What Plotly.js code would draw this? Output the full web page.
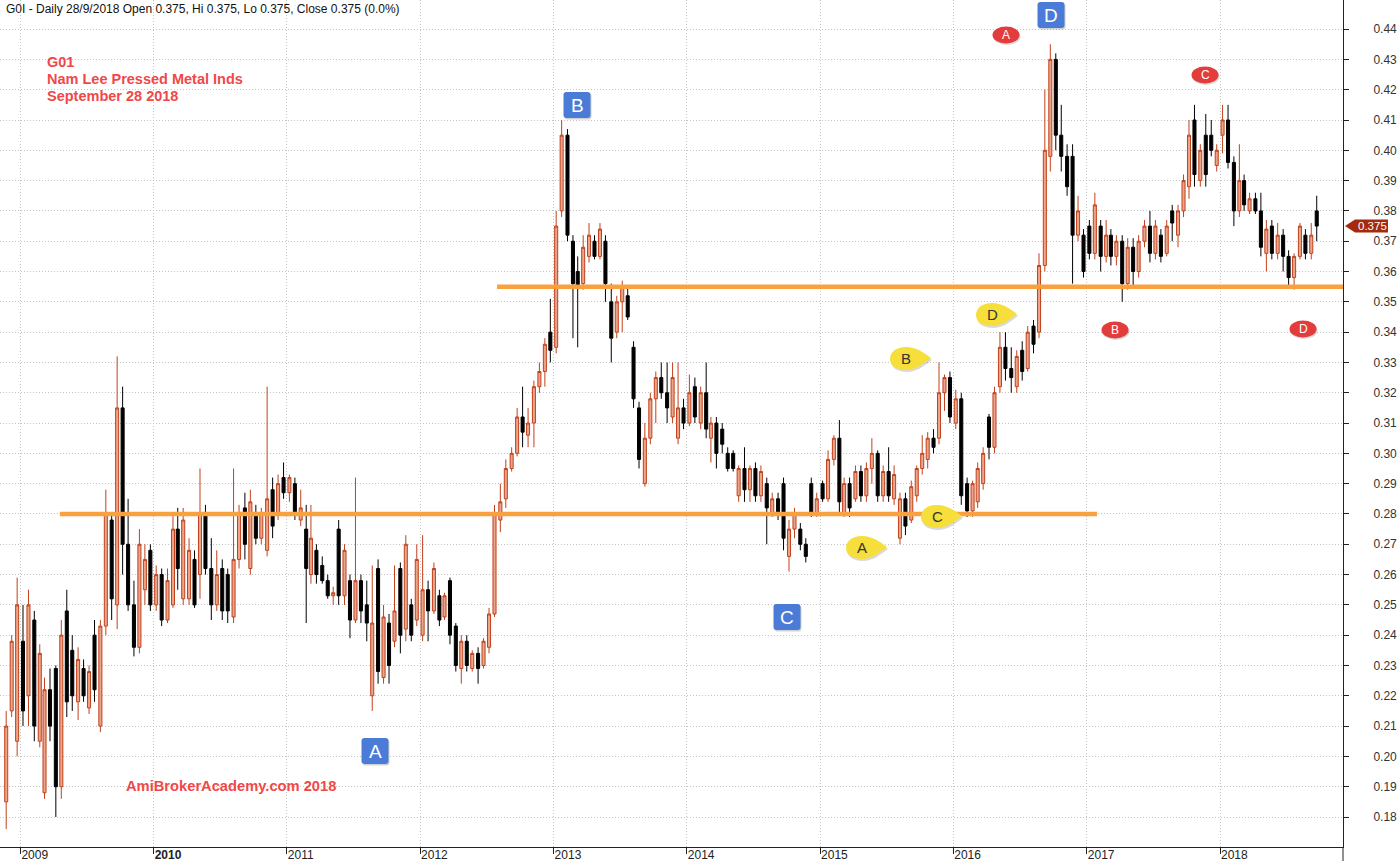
<!DOCTYPE html>
<html><head><meta charset="utf-8">
<script src="https://cdn.plot.ly/plotly-3.0.1.min.js"></script>
<style>html,body{margin:0;padding:0;background:#fff;overflow:hidden}#chart{width:1400px;height:861px}</style>
</head><body><div id="chart"></div>
<script>
// ---- Data: half-month OHLC bars, G01 Nam Lee Pressed Metal Inds ----
// periods run from the 2nd half of Nov 2008 to the 2nd half of Sep 2018
const openP = [
  .185,.215,.205,
  .238,.22,.245,.205,.188,.222,.229,.19,.248,.235,.218,.229,.216,.24,.21,.243,.278,.25,.315,.27,.25,.236,.255,.268,
  .25,.26,.245,.25,.275,.252,.252,.265,.26,.28,.262,.25,.262,.26,.246,.265,.282,.262,.28,.272,.268,.288,.28,.292,
  .287,.29,.278,.275,.26,.268,.263,.258,.253,.275,.253,.258,.245,.258,.25,.22,.262,.226,.244,.238,.262,.242,.25,.245,
  .24,.255,.248,.253,.246,.258,.243,.229,.238,.229,.234,.23,.236,.247,.278,.285,.295,.30,.312,.306,.31,.322,.327,.34,
  .335,.38,.405,.37,.36,.356,.365,.37,.365,.37,.35,.34,.35,.352,.335,.315,.29,.305,.318,.325,.32,.312,.305,.315,
  .31,.322,.31,.32,.305,.31,.308,.30,.30,.286,.295,.288,.295,.286,.29,.28,.285,.29,.266,.275,.275,.27,.29,.28,
  .29,.285,.298,.305,.28,.29,.285,.294,.286,.295,.30,.286,.294,.285,.272,.285,.278,.286,.295,.298,.305,.305,.32,.325,
  .31,.318,.29,.281,.284,.29,.312,.302,.322,.335,.328,.322,.334,.328,.342,.34,.362,.398,.43,.405,.398,.398,.372,.372,
  .375,.366,.375,.365,.372,.365,.37,.356,.368,.36,.37,.375,.366,.372,.366,.38,.372,.38,.388,.41,.39,.405,.405,.395,
  .405,.41,.396,.38,.39,.38,.384,.38,.366,.375,.366,.372,.365,.358,.365,.372,.366,.38
];
const highP = [
  .215,.24,.259,
  .25,.255,.248,.237,.226,.229,.23,.245,.255,.24,.236,.232,.23,.245,.245,.288,.28,.332,.322,.285,.258,.275,.27,.27,
  .263,.262,.262,.28,.282,.282,.272,.268,.295,.283,.272,.268,.265,.262,.295,.283,.287,.288,.283,.282,.322,.292,.293,.297,
  .293,.292,.288,.283,.283,.27,.266,.26,.256,.278,.27,.26,.292,.26,.258,.263,.265,.25,.247,.263,.264,.273,.252,.27,
  .273,.258,.264,.255,.254,.259,.244,.24,.24,.235,.236,.239,.249,.283,.29,.298,.302,.315,.322,.315,.324,.33,.338,.351,
  .38,.41,.407,.372,.365,.372,.376,.372,.376,.372,.356,.352,.357,.355,.337,.317,.31,.32,.327,.33,.33,.33,.33,.318,
  .326,.325,.322,.33,.312,.312,.31,.302,.301,.296,.302,.296,.297,.296,.292,.287,.287,.292,.278,.282,.277,.272,.292,.287,
  .291,.301,.306,.311,.292,.292,.296,.296,.297,.305,.301,.296,.302,.296,.287,.287,.291,.296,.306,.307,.308,.33,.326,.327,
  .321,.32,.292,.291,.297,.302,.313,.322,.34,.34,.335,.334,.337,.342,.344,.366,.42,.435,.432,.415,.402,.402,.385,.374,
  .377,.386,.377,.377,.374,.372,.372,.371,.371,.372,.377,.38,.377,.374,.377,.382,.382,.392,.41,.415,.402,.412,.41,.402,
  .415,.415,.398,.402,.392,.386,.386,.386,.377,.377,.376,.374,.367,.366,.376,.374,.376,.385
];
const lowP = [
  .176,.213,.20,
  .21,.21,.205,.203,.186,.205,.18,.186,.213,.215,.212,.218,.214,.218,.208,.24,.245,.242,.26,.248,.233,.234,.25,.248,
  .248,.243,.244,.249,.255,.25,.25,.249,.252,.26,.245,.248,.245,.244,.244,.262,.265,.26,.27,.27,.266,.272,.278,.285,
  .284,.278,.276,.244,.257,.257,.257,.252,.25,.25,.25,.239,.244,.244,.238,.215,.224,.224,.224,.236,.234,.238,.238,.243,
  .238,.238,.247,.243,.245,.237,.228,.224,.228,.228,.224,.229,.234,.246,.274,.282,.294,.299,.302,.302,.302,.32,.322,.33,
  .333,.378,.37,.338,.335,.354,.363,.364,.364,.35,.33,.338,.34,.344,.315,.295,.289,.303,.31,.318,.31,.31,.303,.308,
  .309,.31,.308,.305,.297,.295,.30,.294,.294,.284,.284,.284,.284,.284,.27,.279,.278,.268,.261,.272,.268,.264,.279,.279,
  .284,.284,.296,.28,.279,.279,.284,.284,.284,.29,.284,.284,.284,.283,.27,.273,.277,.284,.293,.295,.30,.303,.314,.31,
  .308,.283,.279,.279,.282,.288,.298,.30,.32,.324,.32,.32,.324,.327,.333,.338,.36,.393,.40,.393,.385,.356,.37,.358,
  .364,.364,.36,.363,.362,.362,.35,.354,.355,.358,.368,.363,.364,.363,.365,.37,.368,.378,.384,.388,.388,.388,.398,.393,
  .399,.394,.375,.378,.38,.379,.379,.365,.36,.364,.364,.36,.355,.354,.364,.364,.364,.37
];
const closeP = [
  .21,.238,.25,
  .215,.25,.21,.234,.222,.21,.19,.24,.218,.22,.232,.22,.228,.222,.243,.28,.252,.315,.27,.25,.236,.27,.265,.25,
  .26,.245,.258,.275,.262,.278,.268,.25,.28,.262,.25,.26,.248,.248,.265,.28,.27,.284,.272,.28,.285,.276,.29,.287,
  .292,.28,.282,.262,.272,.26,.258,.253,.254,.253,.268,.245,.258,.248,.244,.244,.228,.246,.23,.248,.24,.27,.24,.265,
  .255,.248,.262,.245,.253,.24,.23,.238,.23,.234,.229,.238,.247,.28,.284,.295,.30,.312,.307,.31,.322,.327,.336,.334,
  .375,.405,.372,.356,.355,.368,.372,.365,.374,.356,.338,.35,.355,.345,.318,.298,.305,.318,.325,.32,.315,.325,.315,.31,
  .32,.312,.32,.308,.31,.30,.303,.295,.295,.295,.288,.295,.286,.294,.282,.285,.28,.272,.275,.28,.27,.266,.28,.285,
  .285,.298,.305,.284,.29,.282,.294,.286,.295,.30,.286,.294,.286,.293,.285,.276,.289,.295,.30,.305,.302,.32,.325,.312,
  .318,.286,.281,.29,.295,.30,.302,.32,.335,.328,.325,.332,.327,.34,.336,.362,.40,.43,.405,.398,.388,.372,.38,.36,
  .366,.382,.365,.372,.365,.37,.356,.368,.36,.37,.375,.366,.375,.365,.375,.376,.38,.39,.405,.392,.40,.392,.40,.40,
  .41,.396,.38,.39,.382,.384,.38,.368,.374,.366,.372,.365,.358,.365,.375,.366,.372,.375
];
// calendar of the half-month periods (mid-point day of each half)
const firstPeriod = {year: 2008, month: 11, half: 1};
const lastPeriod  = {year: 2018, month: 9,  half: 1};
const halfMidDay = [8, 23];

const yearTicks  = ['2009-01-01','2010-01-01','2011-01-01','2012-01-01','2013-01-01','2014-01-01','2015-01-01','2016-01-01','2017-01-01','2018-01-01'];
const yearLabels = ['2009','<b>2010</b>','2011','2012','2013','2014','2015','2016','2017','2018'];

const supportLevels = [0.28, 0.355];
const supportStart  = ['2009-04-19', '2012-07-30'];
const supportEnd    = ['2017-01-29', null];   // null = to right edge

const lastClose = 0.375;
const headerText = 'G0I - Daily 28/9/2018 Open 0.375, Hi 0.375, Lo 0.375, Close 0.375 (0.0%)';
const titleLines = ['G01', 'Nam Lee Pressed Metal Inds', 'September 28 2018'];
const footerText = 'AmiBrokerAcademy.com 2018';
const letters = ['A','B','C','D'];

function pad(n){return (n<10?'0':'')+n;}
function buildDates(){
  const out=[]; let y=firstPeriod.year, m=firstPeriod.month, h=firstPeriod.half;
  while(true){
    out.push(y+'-'+pad(m)+'-'+pad(halfMidDay[h]));
    if(y===lastPeriod.year && m===lastPeriod.month && h===lastPeriod.half) break;
    h++; if(h>1){h=0;m++; if(m>12){m=1;y++;}}
  }
  return out;
}
const dates = buildDates();

// ---- layout helpers: reference pixel -> paper (plot area is 1343 x 847 px) ----
const PW = 1343, PH = 847;
const px = x => x/PW, py = y => 1 - y/PH;
const FONT = 'Liberation Sans, Arial, sans-serif';

const shapes = [];
const annotations = [];

// support / resistance lines
supportLevels.forEach((lv,i)=>{
  shapes.push({type:'line', xref:'x', yref:'y', x0:supportStart[i], x1:supportEnd[i]||'2018-12-04',
    y0:lv, y1:lv, line:{color:'#f9a13f', width:4.5}, layer:'above'});
});

// blue rounded squares (A-D)
const blueBoxes = [[375,751],[577,105],[787,617],[1051,15]];
function roundRect(w,h,r){
  const a=w/2,b=h/2;
  return `M ${-a+r} ${b} L ${a-r} ${b} Q ${a} ${b} ${a} ${b-r} L ${a} ${-b+r} Q ${a} ${-b} ${a-r} ${-b} L ${-a+r} ${-b} Q ${-a} ${-b} ${-a} ${-b+r} L ${-a} ${b-r} Q ${-a} ${b} ${-a+r} ${b} Z`;
}
blueBoxes.forEach((p,i)=>{
  shapes.push({type:'path', xref:'paper', yref:'paper', xsizemode:'pixel', ysizemode:'pixel',
    xanchor:px(p[0]+1), yanchor:py(p[1]+1.5), path:roundRect(27,26,3), fillcolor:'rgba(0,0,0,0.18)', line:{width:0}});
  shapes.push({type:'path', xref:'paper', yref:'paper', xsizemode:'pixel', ysizemode:'pixel',
    xanchor:px(p[0]), yanchor:py(p[1]), path:roundRect(27,26,3), fillcolor:'#4a7bd6', line:{width:0}});
  annotations.push({xref:'paper', yref:'paper', x:px(p[0]), y:py(p[1]), text:letters[i], showarrow:false,
    xanchor:'center', yanchor:'middle', font:{family:FONT, size:19, color:'#ffffff'}});
});

// yellow tear-drop callouts (A-D)
const yellowDrops = [[862,547],[906,358],[937,516],[992,314]];
const dropPath = 'M 25 0 C 17 6, 10 11, 0 11 C -10 11, -16 6, -16 -1 C -16 -8, -9 -12, 0 -12 C 9 -12, 16 -7, 25 0 Z';
yellowDrops.forEach((p,i)=>{
  shapes.push({type:'path', xref:'paper', yref:'paper', xsizemode:'pixel', ysizemode:'pixel',
    xanchor:px(p[0]+1), yanchor:py(p[1]+2), path:dropPath, fillcolor:'rgba(0,0,0,0.15)', line:{width:0}});
  shapes.push({type:'path', xref:'paper', yref:'paper', xsizemode:'pixel', ysizemode:'pixel',
    xanchor:px(p[0]), yanchor:py(p[1]), path:dropPath, fillcolor:'#f6df3a', line:{width:0}});
  annotations.push({xref:'paper', yref:'paper', x:px(p[0]), y:py(p[1]), text:letters[i], showarrow:false,
    xanchor:'center', yanchor:'middle', font:{family:FONT, size:15, color:'#333333'}});
});

// red ovals (A-D)
const redOvals = [[1006,35],[1115,330],[1205,75],[1303,329]];
redOvals.forEach((p,i)=>{
  shapes.push({type:'circle', xref:'paper', yref:'paper', xsizemode:'pixel', ysizemode:'pixel',
    xanchor:px(p[0]+1), yanchor:py(p[1]+1.5), x0:-13.5, x1:13.5, y0:-8.5, y1:8.5, fillcolor:'rgba(0,0,0,0.15)', line:{width:0}});
  shapes.push({type:'circle', xref:'paper', yref:'paper', xsizemode:'pixel', ysizemode:'pixel',
    xanchor:px(p[0]), yanchor:py(p[1]), x0:-13.5, x1:13.5, y0:-8.5, y1:8.5, fillcolor:'#e23c3c', line:{width:0}});
  annotations.push({xref:'paper', yref:'paper', x:px(p[0]), y:py(p[1]), text:letters[i], showarrow:false,
    xanchor:'center', yanchor:'middle', font:{family:FONT, size:12, color:'#ffffff'}});
});

// last price tag on the right axis
shapes.push({type:'path', xref:'paper', yref:'y', xsizemode:'pixel', ysizemode:'pixel',
  xanchor:1, yanchor:lastClose, path:'M 2 0 L 12 6.5 L 45 6.5 L 45 -6.5 L 12 -6.5 Z', fillcolor:'#a52a0c', line:{width:0}});
annotations.push({xref:'paper', yref:'y', x:px(1343+29), y:lastClose, text:lastClose.toFixed(3), showarrow:false,
  xanchor:'center', yanchor:'middle', font:{family:FONT, size:11.5, color:'#ffffff'}});
// extension of right axis line below the date axis
shapes.push({type:'line', xref:'paper', yref:'paper', x0:1, x1:1, y0:0, y1:-14/PH, line:{color:'#222', width:1}});

// texts
annotations.push({xref:'paper', yref:'paper', x:px(4), y:py(9), text:headerText, showarrow:false,
  xanchor:'left', yanchor:'middle', font:{family:FONT, size:12, color:'#111'}});
[62,79,96].forEach((yy,i)=>annotations.push({xref:'paper', yref:'paper', x:px(45), y:py(yy), text:'<b>'+titleLines[i]+'</b>',
  showarrow:false, xanchor:'left', yanchor:'middle', font:{family:FONT, size:14.5, color:'#f04848'}}));
annotations.push({xref:'paper', yref:'paper', x:px(124), y:py(786), text:'<b>'+footerText+'</b>', showarrow:false,
  xanchor:'left', yanchor:'middle', font:{family:FONT, size:14.7, color:'#f04848'}});

const trace = {
  type:'candlestick', x:dates, open:openP, high:highP, low:lowP, close:closeP,
  increasing:{line:{color:'#c2401a', width:1}, fillcolor:'#eaa68c'},
  decreasing:{line:{color:'#000000', width:1}, fillcolor:'#000000'},
  whiskerwidth:0, hoverinfo:'skip', showlegend:false
};

const layout = {
  width:1400, height:861, margin:{l:0, r:57, t:0, b:14},
  paper_bgcolor:'#ffffff', plot_bgcolor:'#ffffff', showlegend:false,
  boxgap:0.2, boxgroupgap:0.2,
  font:{family:FONT, size:12, color:'#222'},
  xaxis:{type:'date', range:['2008-11-06','2018-12-04'], rangeslider:{visible:false},
    tickvals:yearTicks, ticktext:yearLabels, showgrid:true, gridcolor:'#c4c4c4', griddash:'1px,2px', gridwidth:1,
    showline:true, linecolor:'#222', linewidth:1, ticks:'outside', ticklen:6, tickcolor:'#222',
    ticklabelposition:'outside right', ticklabelstandoff:-3, tickfont:{family:FONT, size:12, color:'#222'},
    zeroline:false, fixedrange:true},
  yaxis:{side:'right', range:[0.1701, 0.4496], dtick:0.01, tick0:0.18, tickformat:'.2f',
    showgrid:true, gridcolor:'#c4c4c4', griddash:'1px,2px', gridwidth:1,
    showline:true, linecolor:'#222', linewidth:1, ticks:'outside', ticklen:5, tickcolor:'#222',
    ticklabelstandoff:22, tickfont:{family:FONT, size:12, color:'#333'}, zeroline:false, fixedrange:true},
  shapes:shapes, annotations:annotations
};

Plotly.newPlot('chart', [trace], layout, {staticPlot:true, displayModeBar:false});
</script></body></html>
